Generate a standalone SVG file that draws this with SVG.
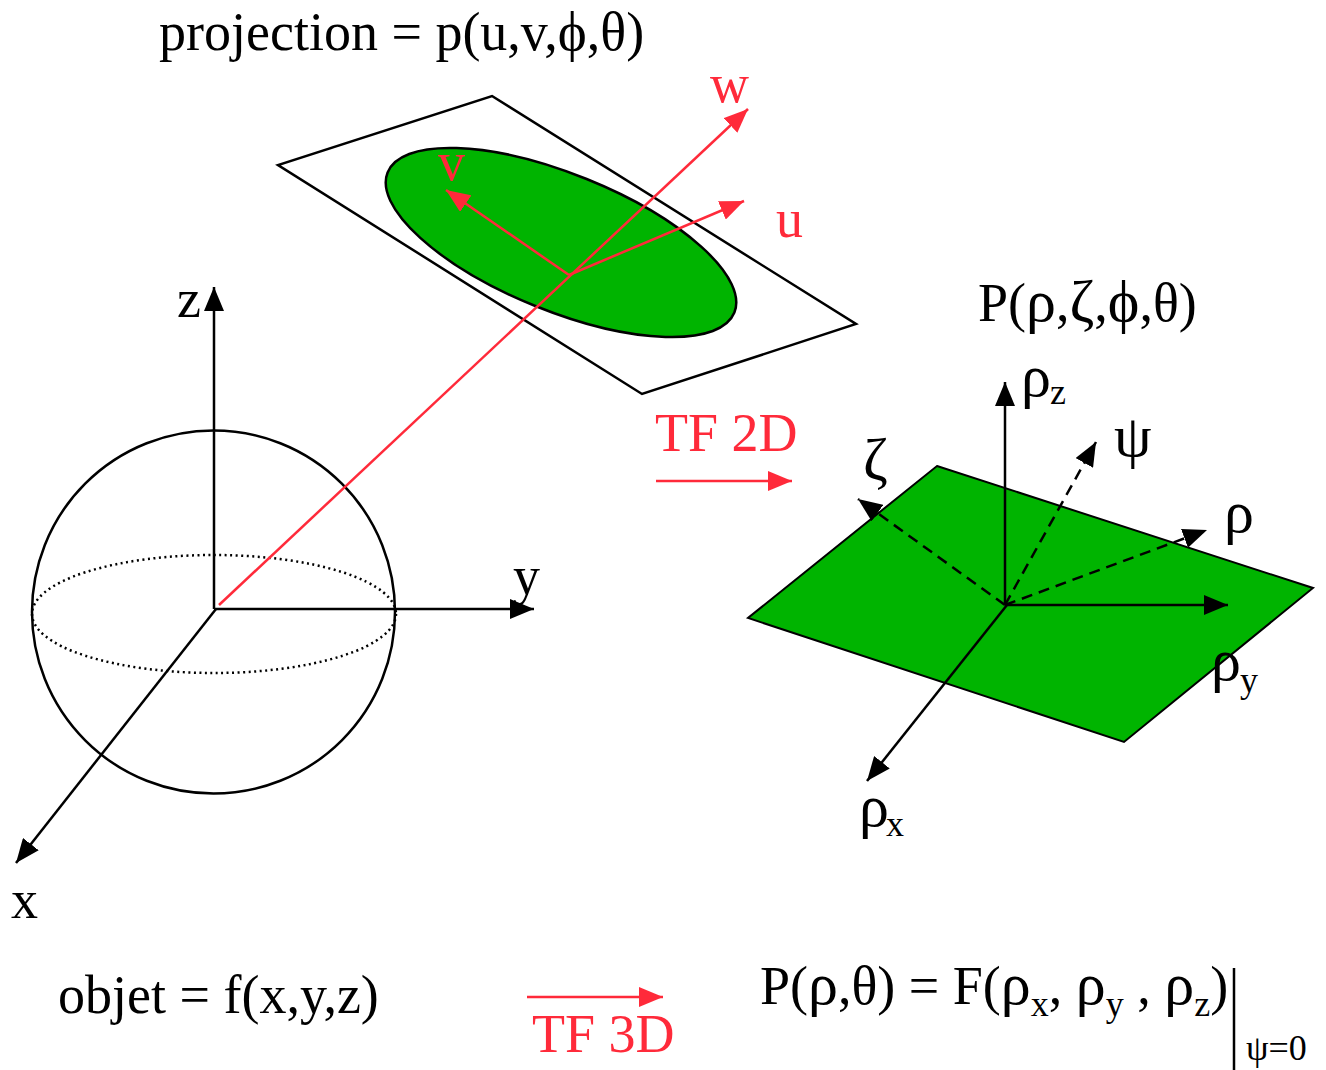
<svg xmlns="http://www.w3.org/2000/svg" width="1326" height="1070" viewBox="0 0 1326 1070">
<style>
text{font-family:"Liberation Serif","DejaVu Serif",serif;font-size:54px;fill:#000}
.r{fill:#ff2a3a}
.s{font-size:36px}
.g{font-size:60px}
.p{font-size:55px}
.k{stroke:#000;stroke-width:2.5;fill:none}
.rl{stroke:#ff2a3a;stroke-width:2.5;fill:none}
.d{stroke-dasharray:11 7}
</style>
<defs>
<marker id="a" markerUnits="userSpaceOnUse" markerWidth="26" markerHeight="20" refX="24" refY="10" orient="auto"><path d="M0 0L24 10L0 20Z" fill="#000"/></marker>
<marker id="b" markerUnits="userSpaceOnUse" markerWidth="26" markerHeight="20" refX="24" refY="10" orient="auto"><path d="M0 0L24 10L0 20Z" fill="#ff2a3a"/></marker>
</defs>
<g id="plane"><path d="M492 96L856 324L642 394L278 165Z" class="k" fill="#fff"/></g>
<g id="ellipse"><ellipse cx="561" cy="242.500" rx="187" ry="68.500" transform="rotate(22 561 242.500)" fill="#00b400" stroke="#000" stroke-width="2.5"/></g>
<g id="sphere"><circle cx="213.500" cy="612" r="181.500" class="k"/><ellipse cx="214" cy="614" rx="182" ry="59" class="k" stroke-dasharray="2 3.500"/></g>
<g id="spectrum"><path d="M937 466L1313 588L1124 742L748 618Z" fill="#00b400" stroke="#000" stroke-width="2"/></g>
<g id="connectors">
<path d="M214 609V287" class="k" marker-end="url(#a)"/>
<path d="M214 609H534" class="k" marker-end="url(#a)"/>
<path d="M216 609L16 863" class="k" marker-end="url(#a)"/>
<path d="M219 605L748 109" class="rl" marker-end="url(#b)"/>
<path d="M569 275L446 190" class="rl" marker-end="url(#b)"/>
<path d="M569 275L744 201" class="rl" marker-end="url(#b)"/>
<path d="M656 481H792" class="rl" marker-end="url(#b)"/>
<path d="M527 997H663" class="rl" marker-end="url(#b)"/>
<path d="M1005 605V382" class="k" marker-end="url(#a)"/>
<path d="M1005 605H1228" class="k" marker-end="url(#a)"/>
<path d="M1007 605L867 781" class="k" marker-end="url(#a)"/>
<path d="M1005 605L858 499" class="k d" marker-end="url(#a)"/>
<path d="M1005 605L1096 442" class="k d" marker-end="url(#a)"/>
<path d="M1005 605L1207 530" class="k d" marker-end="url(#a)"/>
<path d="M1234 968V1070" class="k"/>
</g>
<g id="labels">
<text x="159" y="50">projection = p(u,v,<tspan class="p">ϕ</tspan>,θ)</text>
<text x="710" y="102" class="r">w</text>
<text x="438" y="180" class="r">v</text>
<text x="776" y="237" class="r">u</text>
<text x="177" y="317">z</text>
<text x="513" y="594">y</text>
<text x="11" y="918">x</text>
<text x="978" y="321">P(<tspan class="g">ρ</tspan>,<tspan class="g">ζ</tspan>,<tspan class="g">ϕ</tspan>,θ)</text>
<text x="1021" y="396"><tspan class="g">ρ</tspan><tspan class="s" dy="8" dx="-1">z</tspan></text>
<text x="655" y="451" class="r">TF 2D</text>
<text x="863" y="479" class="g">ζ</text>
<text x="1114" y="456"><tspan class="g">ψ</tspan></text>
<text x="1224" y="532"><tspan class="g">ρ</tspan></text>
<text x="1211" y="680"><tspan class="g">ρ</tspan><tspan class="s" dy="12" dx="-1">y</tspan></text>
<text x="859" y="826"><tspan class="g">ρ</tspan><tspan class="s" dy="10" dx="-3">x</tspan></text>
<text x="58" y="1013">objet = f(x,y,z)</text>
<text x="532" y="1052" class="r">TF 3D</text>
<text x="760" y="1004">P(<tspan class="g">ρ</tspan>,θ) = F(<tspan class="g">ρ</tspan><tspan class="s" dy="12">x</tspan><tspan dy="-12">, </tspan><tspan class="g">ρ</tspan><tspan class="s" dy="12">y</tspan><tspan dy="-12"> , </tspan><tspan class="g">ρ</tspan><tspan class="s" dy="12">z</tspan><tspan dy="-12">)</tspan></text>
<text x="1246" y="1060" class="s">ψ=0</text>
</g>
</svg>
